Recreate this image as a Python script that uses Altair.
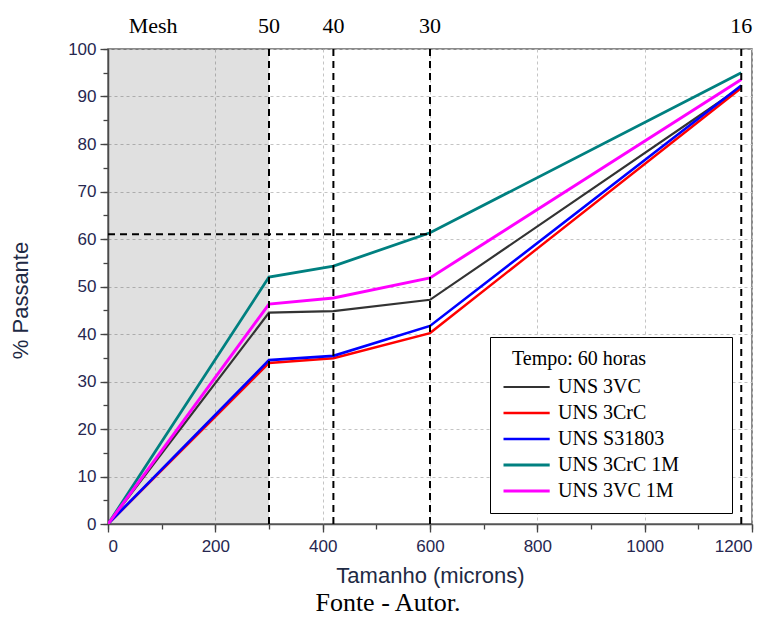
import altair as alt
import pandas as pd

# ---- data ----
sizes = [0, 300, 420, 600, 1180]
series_names = ["UNS 3VC", "UNS 3CrC", "UNS S31803", "UNS 3CrC 1M", "UNS 3VC 1M"]
v_3vc = [0, 44.5, 44.8, 47.2, 92.0]
v_3crc = [0, 33.9, 34.9, 40.2, 91.8]
v_s31803 = [0, 34.5, 35.4, 41.7, 92.3]
v_3crc1m = [0, 52.0, 54.3, 61.3, 95.0]
v_3vc1m = [0, 46.3, 47.6, 51.8, 93.6]
series_colors = ["#333333", "#ff0000", "#0000ff", "#008080", "#ff00ff"]
series_widths = [2.2, 3.0, 3.0, 2.2, 2.2]

mesh_sizes = [300, 420, 600, 1180]
mesh_labels = ["50", "40", "30", "16"]
mesh_title_pos = [84]
mesh_title = ["Mesh"]
shade_from, shade_to = [0], [300]
ref_level = [61]
ref_upto = [600]

rows = []
for name, vals in zip(series_names, [v_3vc, v_3crc, v_s31803, v_3crc1m, v_3vc1m]):
    for s, v in zip(sizes, vals):
        rows.append({"serie": name, "size": s, "pct": v})
df = pd.DataFrame(rows)

xs = alt.Scale(domain=[0, 1200], nice=False)
ys = alt.Scale(domain=[0, 100], nice=False)

lab_font = "Liberation Sans"
lab_color = "#272750"

# shaded area (also carries the minor tick axes)
shade = alt.Chart(pd.DataFrame({"a": shade_from, "b": shade_to, "y0": [0], "y1": [100]})).mark_rect(
    color="black", opacity=0.12
).encode(
    x=alt.X("a:Q", scale=xs, axis=alt.Axis(values=list(range(0, 1201, 100)), labels=False, title=None,
                                            tickSize=5, tickColor="#444", tickWidth=1.3, grid=False,
                                            domain=False, orient="bottom")),
    x2="b:Q",
    y=alt.Y("y0:Q", scale=ys, axis=alt.Axis(values=list(range(0, 101, 5)), labels=False, title=None,
                                             tickSize=5, tickColor="#444", tickWidth=1.3, grid=False,
                                             domain=False, orient="left")),
    y2="y1:Q",
)

pad_label = "datum.label + '" + "\u00a0" * 8 + "\u200b'"
legend_title = "\u200b\u00a0\u00a0Tempo: 60 horas"

lines = alt.Chart(df).mark_line(clip=True).encode(
    x=alt.X("size:Q", scale=xs, title="Tamanho (microns)",
            axis=alt.Axis(values=list(range(0, 1201, 200)), format="d", tickSize=8, tickWidth=1.3,
                          tickColor="#444",
                          labelFont=lab_font, labelFontSize=17, labelColor=lab_color, labelPadding=6,
                          titleFont=lab_font, titleFontSize=22, titleFontWeight="normal", titleColor="#1e2a44",
                          titlePadding=11, grid=True, gridColor="#c4c4c4", gridDash=[3, 3], gridWidth=1,
                          domainColor="#555", domainWidth=1.5, orient="bottom")),
    y=alt.Y("pct:Q", scale=ys, title="% Passante",
            axis=alt.Axis(values=list(range(0, 101, 10)), format="d", tickSize=8, tickWidth=1.3,
                          tickColor="#444",
                          labelFont=lab_font, labelFontSize=17, labelColor=lab_color, labelPadding=4,
                          titleFont=lab_font, titleFontSize=22, titleFontWeight="normal", titleColor="#1e2a44",
                          titlePadding=35, titleY=251, grid=True, gridColor="#c4c4c4", gridDash=[3, 3],
                          gridWidth=1, domainColor="#555", domainWidth=1.5, orient="left")),
    color=alt.Color("serie:N", scale=alt.Scale(domain=series_names, range=series_colors),
                    legend=alt.Legend(title=legend_title, orient="none", legendX=382, legendY=288,
                                      symbolType="M-1,0H3.4", symbolSize=441, symbolStrokeWidth=2.5,
                                      labelOffset=32,
                                      labelFont="Liberation Serif", labelFontSize=20, labelColor="black",
                                      labelExpr=pad_label,
                                      titleFont="Liberation Serif", titleFontSize=20, titleFontWeight="normal",
                                      titleColor="black", padding=12, rowPadding=4, titlePadding=6,
                                      strokeColor="black", fillColor="white", labelLimit=400)),
    strokeWidth=alt.StrokeWidth("serie:N", scale=alt.Scale(domain=series_names, range=series_widths),
                                legend=None),
)

vlines = alt.Chart(pd.DataFrame({"m": mesh_sizes, "y0": [0] * 4, "y1": [100] * 4})).mark_rule(
    color="black", strokeDash=[7, 5], strokeWidth=2
).encode(x=alt.X("m:Q", scale=xs, axis=None), y=alt.Y("y0:Q", scale=ys, axis=None), y2="y1:Q")

hline = alt.Chart(pd.DataFrame({"lv": ref_level, "x0": [0], "x1": ref_upto})).mark_rule(
    color="black", strokeDash=[7, 5], strokeWidth=2
).encode(y=alt.Y("lv:Q", scale=ys, axis=None), x=alt.X("x0:Q", scale=xs, axis=None), x2="x1:Q")

mesh_txt = alt.Chart(pd.DataFrame({"m": mesh_sizes + mesh_title_pos, "t": mesh_labels + mesh_title})).mark_text(
    font="Liberation Serif", fontSize=22, color="black", baseline="middle"
).encode(x=alt.X("m:Q", scale=xs, axis=None), y=alt.value(-23), text="t:N")

caption = alt.Chart(pd.DataFrame({"t": ["Fonte - Autor."]})).mark_text(
    font="Liberation Serif", fontSize=26, color="black", baseline="alphabetic"
).encode(x=alt.value(280), y=alt.value(562), text="t:N")

chart = alt.layer(shade, lines, vlines, hline, mesh_txt, caption).resolve_axis(
    x="independent", y="independent"
).properties(
    width=644, height=475,
    padding={"left": 100, "top": 41, "right": 6, "bottom": 94},
    autosize=alt.AutoSizeParams(type="none"),
).configure_view(stroke="#666", strokeWidth=1.5)

chart.save("out.html", embed_options={"renderer": "svg", "actions": False})
